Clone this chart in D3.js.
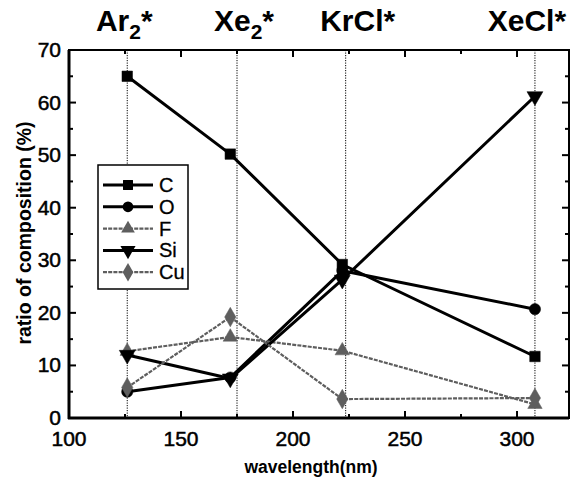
<!DOCTYPE html>
<html><head><meta charset="utf-8">
<script src="https://cdn.jsdelivr.net/npm/d3@7"></script>
<style>body{margin:0;background:#fff}svg{display:block}</style>
</head><body>
<svg id="c" width="572" height="481"></svg>
<script>
const wavelengths = [126, 172, 222, 308];
const lampLines = [126, 175, 223.5, 308];
const lampLabels = ["Ar", "Xe", "KrCl*", "XeCl*"];
const seriesC  = [65.0, 50.2, 29.2, 11.7];
const seriesO  = [5.0, 7.7, 28.0, 20.7];
const seriesF  = [12.7, 15.4, 12.8, 2.6];
const seriesSi = [12.0, 7.5, 26.3, 61.2];
const seriesCu = [5.8, 19.2, 3.6, 3.8];
const xTicks = [100, 150, 200, 250, 300];
const yTicks = [0, 10, 20, 30, 40, 50, 60, 70];

const series = [
  {name:"C",  values: seriesC,  sym: d3.symbolSquare,   size: 110, color:"#000", width:3,   dash:null},
  {name:"O",  values: seriesO,  sym: d3.symbolCircle,   size: 100, color:"#000", width:3,   dash:null},
  {name:"F",  values: seriesF,  sym: "up",              size: 90,  color:"#5e5e5e", width:2.2, dash:"4,1.2"},
  {name:"Si", values: seriesSi, sym: "down",            size: 110, color:"#000", width:3,   dash:null},
  {name:"Cu", values: seriesCu, sym: d3.symbolDiamond,  size: 110, color:"#5e5e5e", width:2.2, dash:"4,1.2"}
];

const svg = d3.select("#c");
const L = 69, R = 569, T = 50, B = 418;
const x = d3.scaleLinear().domain([100, 323.2]).range([L, R]);
const y = d3.scaleLinear().domain([0, 70]).range([B, T]);
const ff = "Liberation Sans, Arial, sans-serif";

// vertical dotted lamp lines
svg.selectAll(".lamp").data(lampLines).enter().append("line")
  .attr("x1", d => x(d)).attr("x2", d => x(d)).attr("y1", T).attr("y2", B)
  .attr("stroke", "#000").attr("stroke-width", 1).attr("stroke-dasharray", "1.2,1.3");

// axes with inward ticks
const xMinor = d3.range(125, 325, 50);
const yMinor = d3.range(5, 70, 10);
const g = svg.append("g");
function tickLines(vals, len, side) {
  vals.forEach(v => {
    let l;
    if (side === "b") l = [x(v), B, x(v), B - len];
    if (side === "t") l = [x(v), T, x(v), T + len];
    if (side === "l") l = [L, y(v), L + len, y(v)];
    if (side === "r") l = [R, y(v), R - len, y(v)];
    g.append("line").attr("x1", l[0]).attr("y1", l[1]).attr("x2", l[2]).attr("y2", l[3])
      .attr("stroke", "#000").attr("stroke-width", 2);
  });
}
tickLines(xTicks.slice(1), 7, "b"); tickLines(xMinor, 4, "b");
tickLines(xTicks.slice(1), 7, "t"); tickLines(xMinor, 4, "t");
tickLines(yTicks.slice(1, -1), 7, "l"); tickLines(yMinor, 4, "l");
tickLines(yTicks.slice(1, -1), 7, "r"); tickLines(yMinor, 4, "r");

svg.append("rect").attr("x", L).attr("y", T).attr("width", R - L).attr("height", B - T)
  .attr("fill", "none").attr("stroke", "#000").attr("stroke-width", 2);
svg.append("line").attr("x1", L).attr("x2", L).attr("y1", T).attr("y2", B + 1).attr("stroke", "#000").attr("stroke-width", 3);
svg.append("line").attr("x1", L - 1).attr("x2", R).attr("y1", B).attr("y2", B).attr("stroke", "#000").attr("stroke-width", 3);

// tick labels
svg.selectAll(".xt").data(xTicks).enter().append("text")
  .attr("x", d => x(d)).attr("y", 446).attr("text-anchor", "middle")
  .attr("font-family", ff).attr("font-size", 21).attr("stroke", "#000").attr("stroke-width", 0.5)
  .text(d => d);
svg.selectAll(".yt").data(yTicks).enter().append("text")
  .attr("x", 61).attr("y", d => y(d) + 7).attr("text-anchor", "end")
  .attr("font-family", ff).attr("font-size", 21).attr("stroke", "#000").attr("stroke-width", 0.5)
  .text(d => d);

// axis titles
svg.append("text").attr("x", 311).attr("y", 473).attr("text-anchor", "middle")
  .attr("font-family", ff).attr("font-weight", "bold")
  .attr("font-size", 17.5).text("wavelength(nm)");
svg.append("text").attr("transform", "translate(31,233) rotate(-90)").attr("text-anchor", "middle")
  .attr("font-family", ff).attr("font-weight", "bold")
  .attr("font-size", 19.5).text("ratio of composition (%)");

// symbol helper
function symPath(s, size) {
  if (s === "up" || s === "down") return d3.symbol().type(d3.symbolTriangle).size(size)();
  return d3.symbol().type(s).size(size)();
}
function symTransform(s, px, py) {
  return s === "down" ? `translate(${px},${py}) rotate(180)` : `translate(${px},${py})`;
}

// series lines and markers
const line = d3.line().x(d => x(d[0])).y(d => y(d[1]));
series.forEach(s => {
  const pts = wavelengths.map((w, i) => [w, s.values[i]]);
  const p = svg.append("path").attr("d", line(pts)).attr("fill", "none")
    .attr("stroke", s.color).attr("stroke-width", s.width).attr("stroke-linejoin", "round");
  if (s.dash) p.attr("stroke-dasharray", s.dash);
  svg.selectAll(null).data(pts).enter().append("path")
    .attr("d", symPath(s.sym, s.size))
    .attr("transform", d => symTransform(s.sym, x(d[0]), y(d[1])))
    .attr("fill", s.color).attr("stroke", s.color).attr("stroke-width", 0.5);
});

// legend
const lg = svg.append("g");
lg.append("rect").attr("x", 98).attr("y", 165).attr("width", 90).attr("height", 124)
  .attr("fill", "#fff").attr("stroke", "#000").attr("stroke-width", 1.5);
series.forEach((s, i) => {
  const ly = 185 + i * 21.8;
  const p = lg.append("line").attr("x1", 103).attr("x2", 153).attr("y1", ly).attr("y2", ly)
    .attr("stroke", s.color).attr("stroke-width", s.width);
  if (s.dash) p.attr("stroke-dasharray", s.dash);
  lg.append("path").attr("d", symPath(s.sym, s.size * 0.9))
    .attr("transform", symTransform(s.sym, 128, ly)).attr("fill", s.color);
  lg.append("text").attr("x", 159).attr("y", ly + 7)
    .attr("font-family", ff).attr("font-size", 20).attr("stroke", "#000").attr("stroke-width", 0.3)
    .text(s.name);
});

// top lamp labels
const offsets = [-3, 7, 12, -8];
lampLabels.forEach((lab, i) => {
  const t = svg.append("text").attr("x", x(lampLines[i]) + offsets[i]).attr("y", 31)
    .attr("text-anchor", "middle").attr("font-family", ff).attr("font-weight", "bold").attr("font-size", 30);
  if (i < 2) {
    t.append("tspan").text(lab);
    t.append("tspan").attr("font-size", 21).attr("dy", 8).text("2");
    t.append("tspan").attr("dy", -8).text("*");
  } else {
    t.text(lab);
  }
});
</script>
</body></html>
